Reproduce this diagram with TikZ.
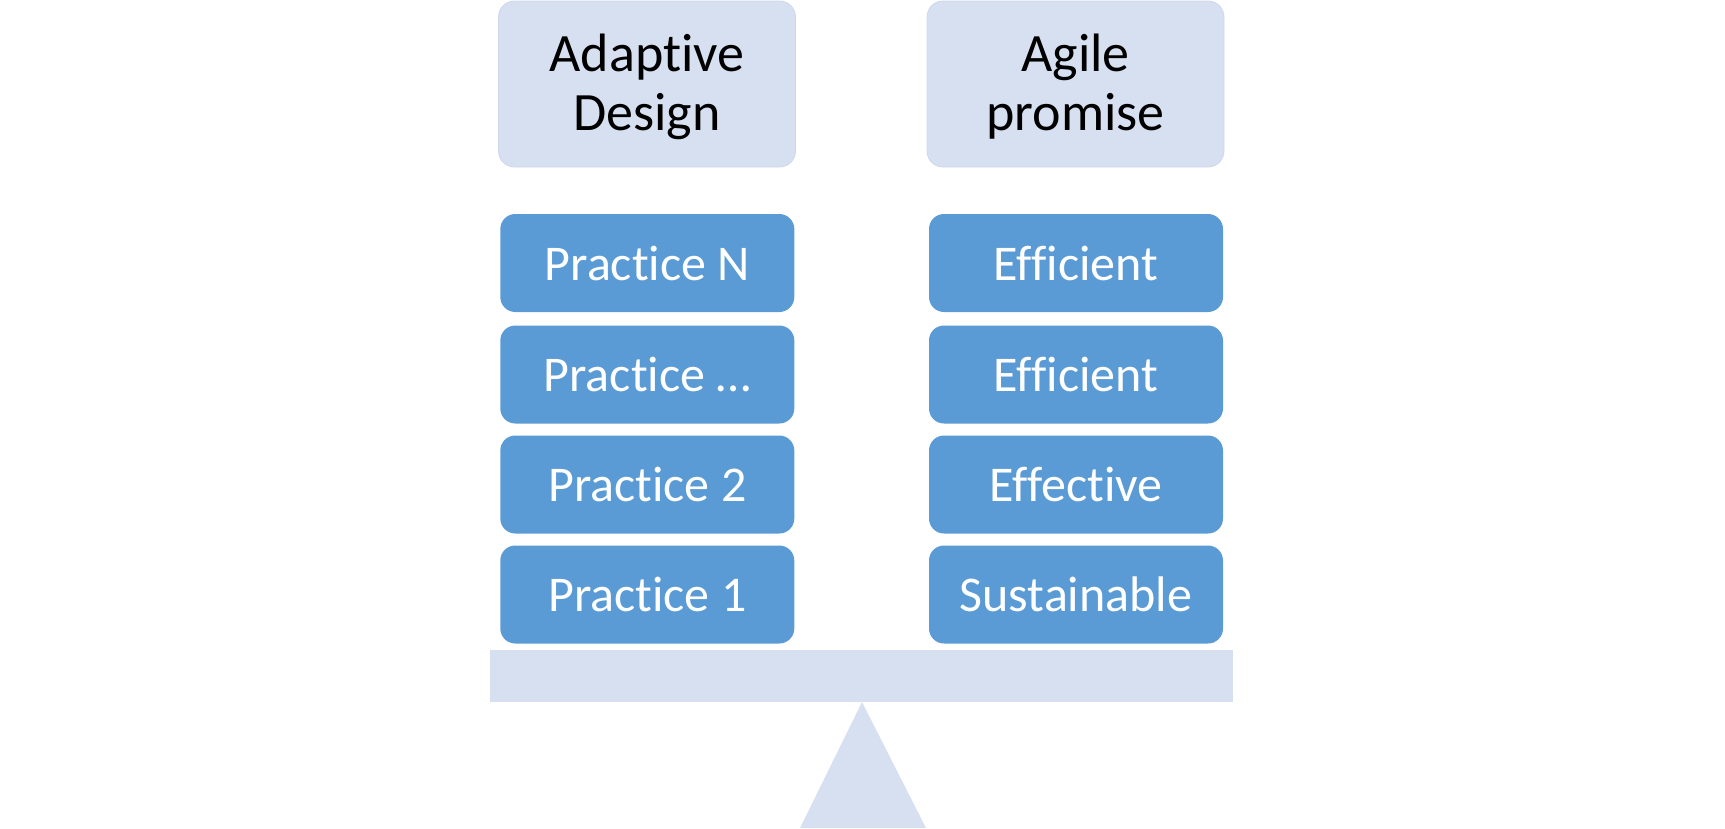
\documentclass[tikz,border=0pt]{standalone}
\usepackage{fontspec}
\setmainfont{Carlito}[Ligatures=NoCommon]
\definecolor{lightbox}{HTML}{D6E0F0}
\definecolor{lightedge}{HTML}{CCD8EC}
\definecolor{bluebox}{HTML}{5B9BD5}
\begin{document}
\begin{tikzpicture}[x=1pt,y=-1pt,
  headbox/.style={fill=lightbox,draw=lightedge,line width=0.8pt,rounded corners=16pt,
    minimum width=297pt,minimum height=166pt,inner sep=0pt,align=center,
    font=\fontsize{54}{59}\selectfont,text=black},
  itembox/.style={fill=bluebox,draw=none,rounded corners=15pt,
    minimum width=294pt,minimum height=98pt,inner sep=0pt,align=center,
    font=\fontsize{50}{60}\selectfont,text=white}]
\useasboundingbox (0,0) rectangle (1725,828);
\node[headbox,text depth=3pt] (hl) at (647,84) {Adaptive\\Design};
\node[headbox,text depth=3pt] (hr) at (1075.5,84) {Agile\\promise};
\node[itembox] (l4) at (647.3,263) {Practice N};
\node[itembox] (l3) at (647.3,374.5) {Practice \dots};
\node[itembox] (l2) at (647.3,484.5) {Practice 2};
\node[itembox] (l1) at (647.3,594.5) {Practice 1};
\node[itembox] (r4) at (1076,263) {Efficient};
\node[itembox] (r3) at (1076,374.5) {Efficient};
\node[itembox] (r2) at (1076,484.5) {Effective};
\node[itembox] (r1) at (1076,594.5) {Sustainable};
\fill[lightbox] (489.5,650) rectangle (1233,702);
\fill[lightbox] (862,702) -- (926,828) -- (800,828) -- cycle;
\end{tikzpicture}
\end{document}
